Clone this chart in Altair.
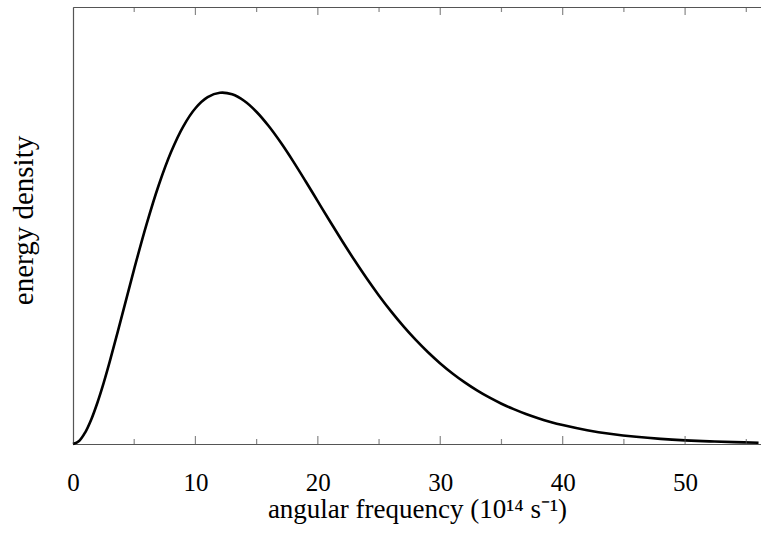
import altair as alt
import pandas as pd

# angular frequency (10^14 s^-1)
omega = [0, 0.5, 1, 1.5, 2, 2.5, 3, 4, 5, 6, 7, 8, 9, 10, 11, 12, 13, 14, 15,
         16, 17, 18, 19, 20, 21, 22, 23, 24, 25, 26, 27, 28, 29, 30, 31, 32,
         33, 34, 35, 36, 37, 38, 39, 40, 42, 44, 46, 48, 50, 52, 54, 56]
# energy density (arbitrary units)
density = [0.0, 0.0071, 0.0268, 0.0568, 0.0950, 0.1393, 0.1883, 0.2936,
           0.4008, 0.5020, 0.5921, 0.6675, 0.7264, 0.7683, 0.7936, 0.8037,
           0.8001, 0.7848, 0.7598, 0.7270, 0.6886, 0.6462, 0.6013, 0.5552,
           0.5091, 0.4639, 0.4203, 0.3786, 0.3394, 0.3029, 0.2691, 0.2381,
           0.2099, 0.1844, 0.1615, 0.1410, 0.1227, 0.1065, 0.0922, 0.0797,
           0.0686, 0.0590, 0.0506, 0.0434, 0.0316, 0.0229, 0.0165, 0.0118,
           0.0084, 0.0060, 0.0042, 0.0030]

major_ticks = [0, 10, 20, 30, 40, 50]
minor_ticks = [5, 15, 25, 35, 45, 55]

df = pd.DataFrame({"omega": omega, "density": density})
major_df = pd.DataFrame({"omega": major_ticks})
minor_df = pd.DataFrame({"omega": minor_ticks})

FONT = "Liberation Serif"
FRAME = "#555555"
x_scale = alt.Scale(domain=[0, 56.2], nice=False, zero=False)
y_scale = alt.Scale(domain=[0, 1], nice=False)

x_axis = alt.Axis(orient="bottom", values=major_ticks, ticks=False,
                  tickSize=0, domain=True, domainColor=FRAME, domainWidth=1.2,
                  grid=False, labelFont=FONT,
                  labelFontSize=25, labelColor="black", labelPadding=46,
                  labelBaseline="alphabetic", labelFlush=False,
                  labelOverlap=False,
                  title="angular frequency (10¹⁴ s⁻¹)", titleFont=FONT,
                  titleFontSize=27, titleFontWeight="normal",
                  titleColor="black", titleY=73,
                  titleBaseline="alphabetic")
top_axis = alt.Axis(orient="top", ticks=False, labels=False, grid=False,
                    domain=True, domainColor=FRAME, domainWidth=1.2,
                    title=None)
y_axis = alt.Axis(title="energy density", domain=True, domainColor=FRAME,
                  domainWidth=1.2, ticks=False,
                  labels=False, grid=False, titleFont=FONT,
                  titleFontSize=29, titleFontWeight="normal",
                  titleColor="black", titleX=-41, titleY=213,
                  titleBaseline="alphabetic")

main = alt.Chart(df).mark_line(color="black", strokeWidth=2.6,
                               interpolate="catmull-rom").encode(
    x=alt.X("omega:Q", scale=x_scale, axis=x_axis),
    y=alt.Y("density:Q", scale=y_scale, axis=y_axis))

layers = [main]
first = True
for tdf, size in [(major_df, 16), (minor_df, 10)]:
    for edge in [0, 1]:
        ax = top_axis if first else None
        first = False
        layers.append(alt.Chart(tdf).mark_tick(
            clip=True, size=size, thickness=1.2, color=FRAME,
            orient="vertical").encode(
            x=alt.X("omega:Q", scale=x_scale, axis=ax),
            y=alt.datum(edge, scale=y_scale)))

chart = alt.layer(*layers).resolve_axis(x="independent").properties(
    width=688, height=437,
    autosize=alt.AutoSizeParams(type="none"),
    padding={"left": 73, "top": 7, "right": 0, "bottom": 94},
    background="white",
).configure_view(stroke=None)

chart.save("out.html", embed_options={"renderer": "svg", "actions": False})
